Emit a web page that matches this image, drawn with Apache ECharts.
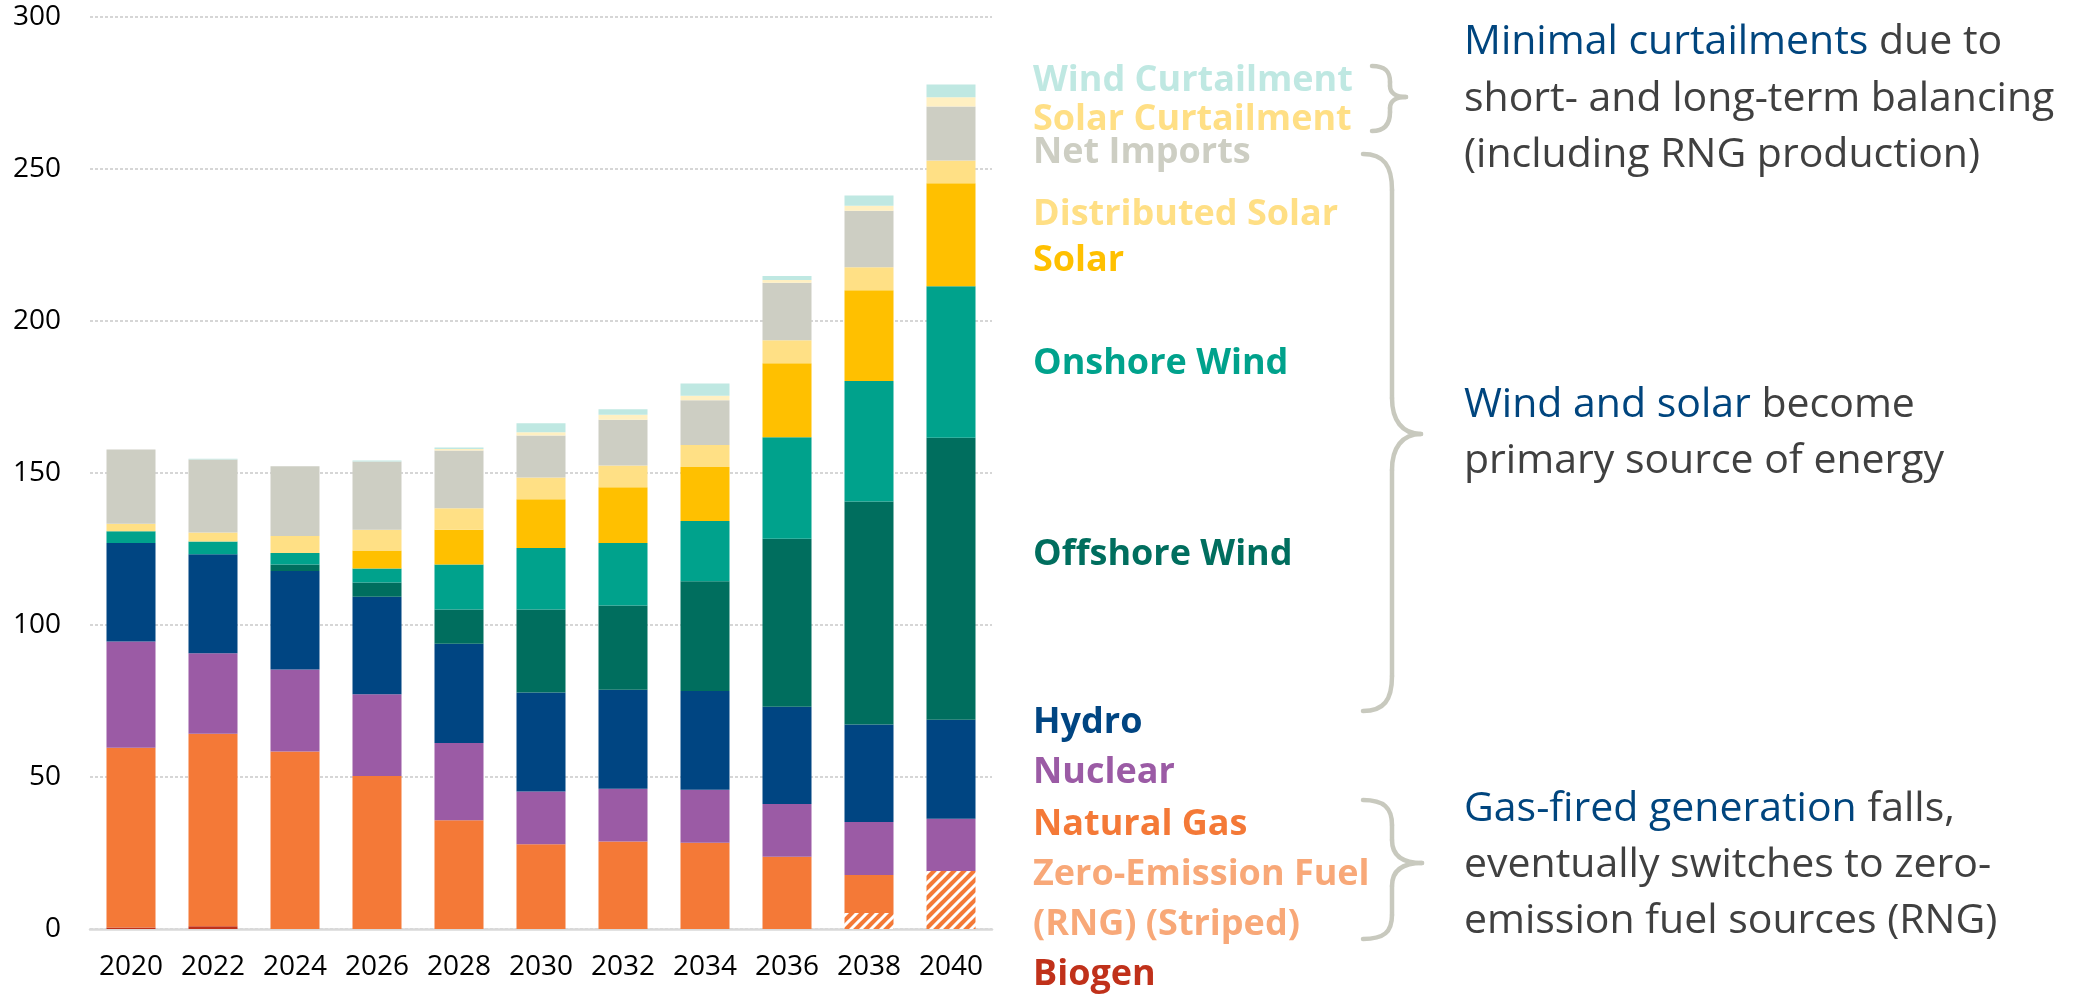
<!DOCTYPE html>
<html>
<head>
<meta charset="utf-8">
<script src="https://cdn.jsdelivr.net/npm/echarts@6/dist/echarts.min.js"></script>
<style>
html,body{margin:0;padding:0;background:#fff;}
#chart{width:2074px;height:995px;}
</style>
</head>
<body>
<div id="chart"></div>
<script>
// ---- data ----
const years = ['2020','2022','2024','2026','2028','2030','2032','2034','2036','2038','2040'];
const yTicks = [0, 50, 100, 150, 200, 250, 300];
const biogen            = [0.5, 0.9, 0, 0, 0, 0, 0, 0, 0, 0, 0];
const zeroEmissionFuel  = [0, 0, 0, 0, 0, 0, 0, 0, 0, 5.3, 19.1];
const naturalGas        = [59.1, 63.3, 58.4, 50.3, 35.8, 27.9, 28.8, 28.4, 23.8, 12.5, 0];
const nuclear           = [35.0, 26.5, 27.0, 26.9, 25.4, 17.3, 17.3, 17.4, 17.3, 17.4, 17.2];
const hydro             = [32.4, 32.6, 32.4, 32.1, 32.6, 32.6, 32.6, 32.5, 32.0, 32.1, 32.5];
const offshoreWind      = [0, 0, 2.1, 4.7, 11.3, 27.3, 27.7, 36.1, 55.3, 73.3, 92.8];
const onshoreWind       = [3.8, 4.2, 3.8, 4.6, 14.8, 20.2, 20.6, 19.8, 33.4, 39.7, 49.8];
const solar             = [0, 0, 0, 5.9, 11.4, 16.1, 18.3, 17.8, 24.3, 29.8, 33.9];
const distributedSolar  = [2.5, 2.9, 5.6, 6.8, 7.1, 7.1, 7.2, 7.2, 7.6, 7.6, 7.5];
const netImports        = [24.4, 24.0, 22.9, 22.5, 19.0, 13.8, 15.0, 14.7, 18.9, 18.6, 17.8];
const solarCurtailment  = [0, 0, 0, 0, 0.5, 1.1, 1.7, 1.5, 0.9, 1.6, 3.0];
const windCurtailment   = [0, 0.3, 0, 0.3, 0.5, 3.0, 1.8, 4.0, 1.3, 3.4, 4.2];

const seriesNames = ['Biogen','Zero-Emission Fuel (RNG)','Natural Gas','Nuclear','Hydro','Offshore Wind','Onshore Wind','Solar','Distributed Solar','Net Imports','Solar Curtailment','Wind Curtailment'];
const seriesData = [biogen, zeroEmissionFuel, naturalGas, nuclear, hydro, offshoreWind, onshoreWind, solar, distributedSolar, netImports, solarCurtailment, windCurtailment];

// legend-like labels on the right (top to bottom)
const legendLabels = ['Wind Curtailment','Solar Curtailment','Net Imports','Distributed Solar','Solar','Onshore Wind','Offshore Wind','Hydro','Nuclear','Natural Gas','Zero-Emission Fuel','(RNG) (Striped)','Biogen'];

// annotations
const note1 = [['Minimal curtailments',' due to'],['','short- and long-term balancing'],['','(including RNG production)']];
const note2 = [['Wind and solar',' become'],['','primary source of energy']];
const note3 = [['Gas-fired generation',' falls,'],['','eventually switches to zero-'],['','emission fuel sources (RNG)']];

// ---- styles ----
const ORANGE = '#F47937';
const barColors = ['#C0311A', null, ORANGE, '#9B5BA5', '#004582', '#006E5E', '#00A28C', '#FFC000', '#FFE085', '#CDCEC3', '#FFF0C2', '#BFE8E2'];
const legendColors = ['#BFE8E2','#FFDF85','#CDCEC3','#FFDF85','#FFC000','#00A28C','#006E5E','#004582','#9B5BA5','#F47937','#F8A878','#F8A878','#C0311A'];
const legendY = [81, 120, 153, 215, 261, 364, 555, 723, 773, 825, 875, 925, 975];

function stripePattern() {
  const c = document.createElement('canvas');
  c.width = 10; c.height = 10;
  const ctx = c.getContext('2d');
  ctx.fillStyle = ORANGE;
  ctx.fillRect(0, 0, 10, 10);
  ctx.strokeStyle = '#ffffff';
  ctx.lineWidth = 3;
  ctx.beginPath();
  ctx.moveTo(-5, 5); ctx.lineTo(5, -5);
  ctx.moveTo(0, 10); ctx.lineTo(10, 0);
  ctx.moveTo(5, 15); ctx.lineTo(15, 5);
  ctx.stroke();
  return c;
}
barColors[1] = { image: stripePattern(), repeat: 'repeat' };

const FONT = "'Open Sans', 'DejaVu Sans', sans-serif";

const series = seriesNames.map((name, i) => ({
  name: name,
  type: 'bar',
  stack: 'total',
  barWidth: 49,
  data: seriesData[i],
  itemStyle: { color: barColors[i] },
  emphasis: { disabled: true },
  silent: true
}));

const graphics = [];
legendLabels.forEach((t, i) => {
  graphics.push({
    type: 'text', x: 1033, y: legendY[i],
    style: { text: t, fill: legendColors[i], font: "bold 36px " + FONT, verticalAlign: 'middle', align: 'left' }
  });
});

const NOTE_SIZE = 41;
function addNote(lines, ys) {
  lines.forEach((ln, i) => {
    let txt = '';
    if (ln[0]) txt += '{b|' + ln[0] + '}';
    txt += '{g|' + ln[1] + '}';
    graphics.push({
      type: 'text', x: 1464, y: ys[i],
      style: {
        text: txt, verticalAlign: 'middle', align: 'left',
        fontSize: NOTE_SIZE, fontFamily: FONT,
        rich: {
          b: { fill: '#00457E', fontSize: NOTE_SIZE, fontFamily: FONT },
          g: { fill: '#404040', fontSize: NOTE_SIZE, fontFamily: FONT }
        }
      }
    });
  });
}
addNote(note1, [42, 99, 155]);
addNote(note2, [405, 461]);
addNote(note3, [809, 865, 921]);

// braces drawn as bezier curves + straight lines
const braceStyle = { stroke: '#C8C9BE', lineWidth: 4.5, fill: null, lineCap: 'round' };
const braces = [
  'M1372,66 C1386,66 1390,72 1390,82 L1390,86 C1390,93 1396,97 1406,97 C1396,97 1390,101 1390,108 L1390,112 C1390,122 1386,131 1372,131',
  'M1363,154 C1384,154 1392,166 1392,190 L1392,398 C1392,420 1402,434 1421,434 C1402,434 1392,448 1392,470 L1392,676 C1392,700 1384,711 1363,711',
  'M1363,800 C1384,800 1392,808 1392,825 L1392,840 C1392,855 1402,863 1422,863 C1402,863 1392,871 1392,886 L1392,915 C1392,932 1384,939 1363,939'
];
function braceToGraphics(p) {
  const toks = p.match(/[MCL]|-?\d+(\.\d+)?/g);
  let i = 0, cx = 0, cy = 0, cmd = null;
  const out = [];
  while (i < toks.length) {
    if (/[MCL]/.test(toks[i])) { cmd = toks[i]; i++; continue; }
    if (cmd === 'M') { cx = +toks[i]; cy = +toks[i+1]; i += 2; }
    else if (cmd === 'L') {
      const x = +toks[i], y = +toks[i+1]; i += 2;
      out.push({ type: 'line', shape: { x1: cx, y1: cy, x2: x, y2: y }, style: braceStyle, silent: true });
      cx = x; cy = y;
    } else if (cmd === 'C') {
      const a = toks.slice(i, i+6).map(Number); i += 6;
      out.push({ type: 'bezierCurve', shape: { x1: cx, y1: cy, cpx1: a[0], cpy1: a[1], cpx2: a[2], cpy2: a[3], x2: a[4], y2: a[5] }, style: braceStyle, silent: true });
      cx = a[4]; cy = a[5];
    } else { i++; }
  }
  return out;
}
braces.forEach(p => braceToGraphics(p).forEach(g => graphics.push(g)));

const chart = echarts.init(document.getElementById('chart'), null, { renderer: 'canvas' });
chart.setOption({
  animation: false,
  backgroundColor: '#ffffff',
  grid: { left: 90, right: 1082, top: 17, bottom: 66, containLabel: false },
  xAxis: {
    type: 'category',
    data: years,
    axisLine: { show: true, lineStyle: { color: '#D9D9D9', width: 2.5 } },
    axisTick: { show: false },
    axisLabel: { color: '#000000', fontSize: 28, fontFamily: FONT, margin: 24, interval: 0 }
  },
  yAxis: {
    type: 'value',
    min: yTicks[0],
    max: yTicks[yTicks.length - 1],
    interval: 50,
    axisLine: { show: false },
    axisTick: { show: false },
    axisLabel: { color: '#000000', fontSize: 28, fontFamily: FONT, margin: 29 },
    splitLine: { show: true, lineStyle: { color: '#D6D6D6', width: 2, type: [3, 2] } }
  },
  series: series,
  graphic: graphics
});
</script>
</body>
</html>
